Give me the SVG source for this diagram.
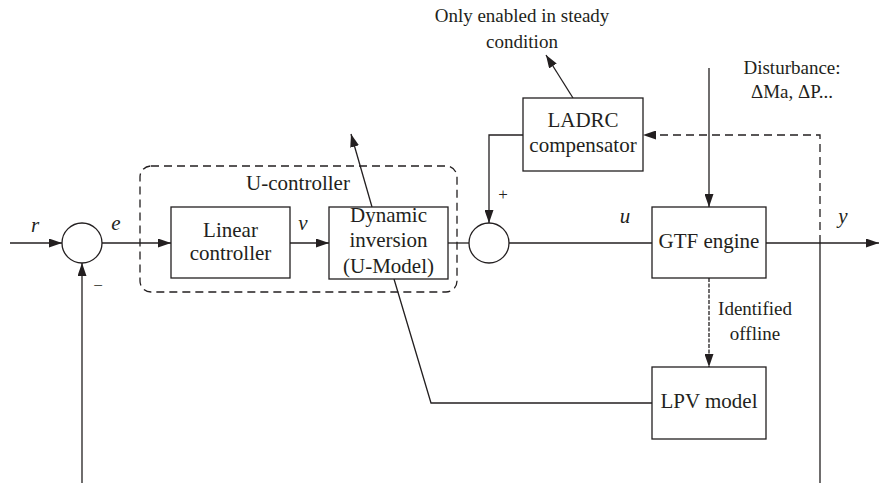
<svg xmlns="http://www.w3.org/2000/svg" width="879" height="483" viewBox="0 0 879 483" font-family="Liberation Serif, Times New Roman, serif" font-size="21">
  <style>
    .box { fill: #ffffff; stroke: #231f20; stroke-width: 1.3; }
    .sum { fill: #ffffff; stroke: #231f20; stroke-width: 1.3; }
    .wire { fill: none; stroke: #231f20; stroke-width: 1.3; }
    .dash { fill: none; stroke: #231f20; stroke-width: 1.3; stroke-dasharray: 8 5; }
    .fine { fill: none; stroke: #231f20; stroke-width: 1.3; stroke-dasharray: 4 1.5; }
    .arr { marker-end: url(#head); }
    text { fill: #231f20; text-anchor: middle; }
    .sig { font-style: italic; }
    .note { font-size: 19px; }
    .sign { font-size: 17px; }
  </style>
  <defs>
    <marker id="head" markerWidth="13" markerHeight="9" refX="13" refY="4.5" orient="auto" markerUnits="userSpaceOnUse">
      <path d="M0,0 L13,4.5 L0,9 Z" fill="#231f20"/>
    </marker>
  </defs>

  <!-- connectors -->
  <g id="connectors">
    <line class="wire arr" x1="10" y1="243" x2="62" y2="243"/>
    <line class="wire arr" x1="102" y1="243" x2="171" y2="243"/>
    <line class="wire arr" x1="290" y1="243" x2="329" y2="243"/>
    <line class="wire" x1="448" y1="243" x2="469" y2="243"/>
    <line class="wire" x1="509" y1="243" x2="652" y2="243"/>
    <line class="wire arr" x1="766" y1="243" x2="879" y2="243"/>
    <!-- feedback to first summing junction -->
    <line class="wire arr" x1="82" y1="483" x2="82" y2="263"/>
    <!-- output tap going down -->
    <line class="wire" x1="820" y1="243" x2="820" y2="483"/>
    <!-- dashed tap to LADRC -->
    <polyline class="dash arr" points="820,243 820,135 643,135"/>
    <!-- LADRC output into second junction -->
    <polyline class="wire arr" points="523,135 489,135 489,223"/>
    <!-- disturbance input -->
    <line class="wire arr" x1="709" y1="68" x2="709" y2="207"/>
    <!-- identification path -->
    <line class="fine arr" x1="709" y1="278" x2="709" y2="367"/>
    <!-- LPV model to U-model (crossing arrow) -->
    <polyline class="wire" points="652,403 431,403 394,279"/>
    <line class="wire arr" x1="372" y1="207" x2="351" y2="134"/>
    <!-- LADRC enable note pointer -->
    <line class="wire arr" x1="573" y1="98" x2="546" y2="55"/>
  </g>

  <!-- U-controller frame -->
  <g id="u-controller">
    <rect class="dash" x="140" y="166" width="317" height="126" rx="11" ry="11"/>
    <text x="298" y="190">U-controller</text>
  </g>

  <g id="sum1">
    <circle class="sum" cx="82" cy="243" r="20"/>
  </g>
  <g id="sum2">
    <circle class="sum" cx="489" cy="243" r="20"/>
  </g>

  <g id="linear-controller">
    <rect class="box" x="171" y="207" width="119" height="71"/>
    <text x="230.5" y="237">Linear</text>
    <text x="230.5" y="260">controller</text>
  </g>

  <g id="dynamic-inversion">
    <rect class="box" x="329" y="207" width="119" height="72"/>
    <text x="388.5" y="222">Dynamic</text>
    <text x="388.5" y="247">inversion</text>
    <text x="388.5" y="273">(U-Model)</text>
  </g>

  <g id="ladrc">
    <rect class="box" x="523" y="98" width="120" height="73"/>
    <text x="583" y="127">LADRC</text>
    <text x="583" y="152">compensator</text>
  </g>

  <g id="gtf-engine">
    <rect class="box" x="652" y="207" width="114" height="71"/>
    <text x="709" y="248">GTF engine</text>
  </g>

  <g id="lpv-model">
    <rect class="box" x="652" y="367" width="114" height="72"/>
    <text x="709" y="408">LPV model</text>
  </g>

  <!-- signal labels -->
  <g id="labels">
    <text class="sig" x="35" y="232">r</text>
    <text class="sig" x="116" y="230">e</text>
    <text class="sig" x="303" y="230">v</text>
    <text class="sig" x="625" y="223">u</text>
    <text class="sig" x="843" y="223">y</text>
    <text class="sign" x="503" y="200">+</text>
    <text class="sign" x="98" y="291">−</text>
    <text class="note" x="522" y="22">Only enabled in steady</text>
    <text class="note" x="522" y="48">condition</text>
    <text class="note" x="792" y="74">Disturbance:</text>
    <text class="note" x="792" y="98">ΔMa, ΔP...</text>
    <text class="note" x="755" y="315">Identified</text>
    <text class="note" x="755" y="340">offline</text>
  </g>
</svg>
